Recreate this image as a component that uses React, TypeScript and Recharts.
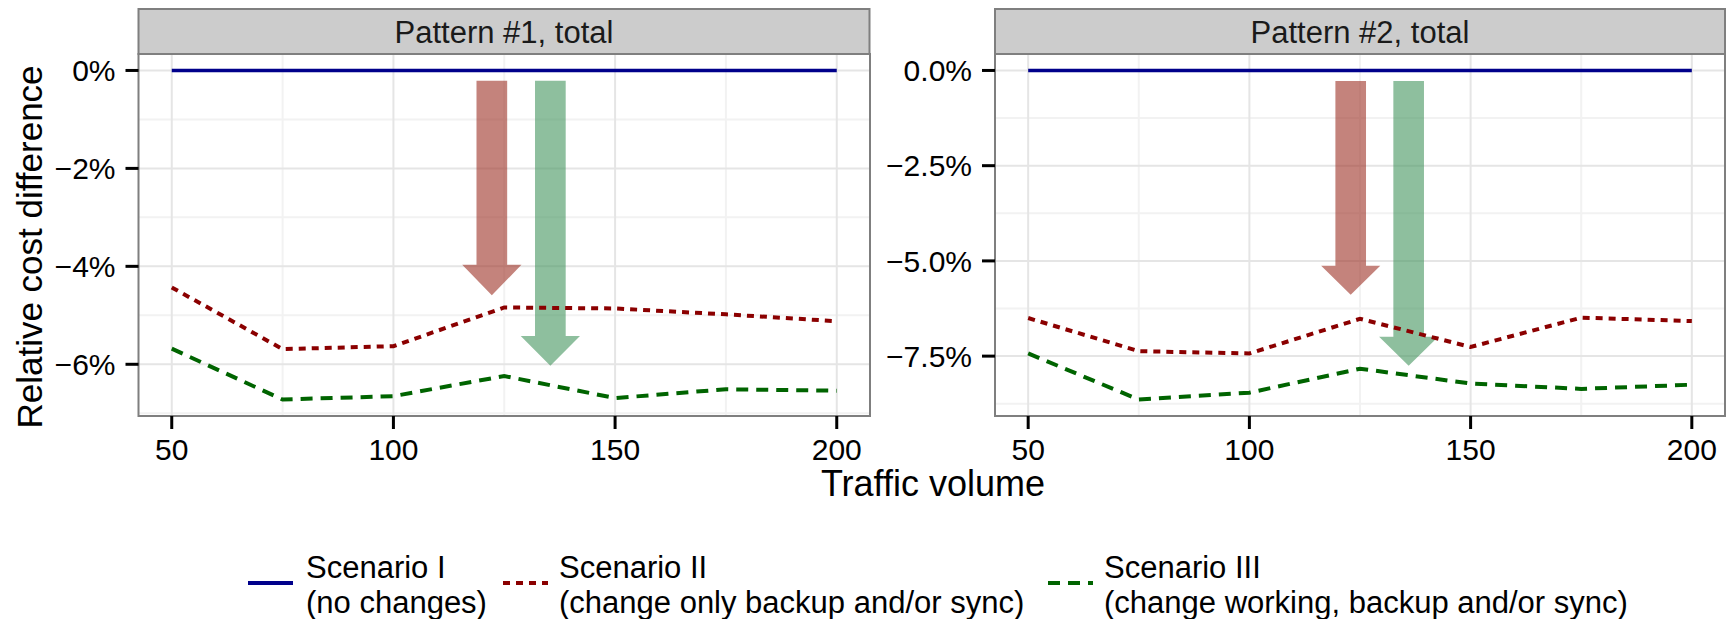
import { LineChart, Line, XAxis, YAxis, CartesianGrid, ReferenceArea } from 'recharts'

// traffic volume on the x axis
const volumes = [50, 75, 100, 125, 150, 175, 200]
const xTicks = [50, 100, 150, 200]
const xMinor = [75, 125, 175]
const xDomain = [42.5, 207.5]

// Pattern #1, relative cost difference in %
const p1NoChange = [0, 0, 0, 0, 0, 0, 0]
const p1Backup = [-4.43, -5.69, -5.63, -4.84, -4.86, -4.98, -5.12]
const p1Working = [-5.68, -6.72, -6.65, -6.24, -6.69, -6.51, -6.54]
const p1Ticks = [0, -2, -4, -6]
const p1Minor = [-1, -3, -5, -7]

// Pattern #2
const p2NoChange = [0, 0, 0, 0, 0, 0, 0]
const p2Backup = [-6.5, -7.37, -7.43, -6.52, -7.26, -6.49, -6.58]
const p2Working = [-7.43, -8.64, -8.46, -7.83, -8.22, -8.36, -8.25]
const p2Ticks = [0, -2.5, -5, -7.5]
const p2Minor = [-1.25, -3.75, -6.25, -8.75]

// arrow annotations, in data units (x centre, top, neck, tip, half widths)
const p1Arrows = [
  { x: 122.2, top: -0.21, neck: -3.97, tip: -4.59, shaft: 3.46, head: 6.68 },
  { x: 135.4, top: -0.21, neck: -5.42, tip: -6.03, shaft: 3.46, head: 6.68 }
]
const p2Arrows = [
  { x: 122.9, top: -0.28, neck: -5.13, tip: -5.89, shaft: 3.46, head: 6.68 },
  { x: 136.0, top: -0.28, neck: -6.99, tip: -7.75, shaft: 3.46, head: 6.68 }
]

const arrowColors = ['rgb(157,48,37)', 'rgb(67,148,93)']

function expand(values: number[][]) {
  const all = values.flat()
  const lo = Math.min(...all)
  const hi = Math.max(...all)
  const pad = (hi - lo) * 0.05
  return [lo - pad, hi + pad]
}

function arrowShape(a: any, color: string) {
  return (props: any) => {
    const { x, y, width, height } = props
    const cx = x + width / 2
    const neckY = y + (height * (a.top - a.neck)) / (a.top - a.tip)
    const sw = (width / 2) * (a.shaft / a.head)
    const pts = [
      [cx - sw, y],
      [cx + sw, y],
      [cx + sw, neckY],
      [x + width, neckY],
      [cx, y + height],
      [x, neckY],
      [cx - sw, neckY]
    ]
    return <polygon points={pts.map((p) => p.join(',')).join(' ')} fill={color} fillOpacity={0.6} />
  }
}

interface PanelProps {
  noChange: number[]
  backup: number[]
  working: number[]
  yTicks: number[]
  yMinor: number[]
  arrows: any[]
  fmt: (v: number) => string
  left: number
  width: number
  yAxisWidth: number
  marginRight: number
}

function Panel(p: PanelProps) {
  const rows = volumes.map((v, i) => ({
    v,
    s1: p.noChange[i],
    s2: p.backup[i],
    s3: p.working[i]
  }))
  const yDomain = expand([p.noChange, p.backup, p.working])

  return (
    <div style={{ position: 'absolute', left: p.left, top: 0 }}>
      <LineChart
        width={p.width}
        height={470}
        data={rows}
        margin={{ top: 54, right: p.marginRight, bottom: 0, left: 0 }}
      >
        <CartesianGrid
          stroke="#f2f2f2"
          strokeWidth={2}
          verticalValues={xMinor}
          horizontalValues={p.yMinor}
        />
        <CartesianGrid
          stroke="#e5e5e5"
          strokeWidth={2}
          verticalValues={xTicks}
          horizontalValues={p.yTicks}
        />
        <XAxis
          dataKey="v"
          type="number"
          domain={xDomain}
          ticks={xTicks}
          allowDataOverflow
          height={54}
          axisLine={false}
          tickSize={13}
          tickMargin={10}
          tickLine={{ stroke: '#000', strokeWidth: 3 }}
          tick={{ fontSize: 30, fill: '#000' }}
        />
        <YAxis
          type="number"
          domain={yDomain}
          ticks={p.yTicks}
          allowDataOverflow
          width={p.yAxisWidth}
          axisLine={false}
          tickSize={13}
          tickMargin={10}
          tickFormatter={p.fmt}
          tickLine={{ stroke: '#000', strokeWidth: 3 }}
          tick={{ fontSize: 30, fill: '#000' }}
        />
        <Line dataKey="s1" type="linear" stroke="#00008b" strokeWidth={3.5} dot={false} isAnimationActive={false} />
        <Line
          dataKey="s2"
          type="linear"
          stroke="#8b0000"
          strokeWidth={4}
          strokeDasharray="7 6"
          dot={false}
          isAnimationActive={false}
        />
        <Line
          dataKey="s3"
          type="linear"
          stroke="#006400"
          strokeWidth={4}
          strokeDasharray="12 8"
          dot={false}
          isAnimationActive={false}
        />
        {p.arrows.map((a, i) => (
          <ReferenceArea
            key={i}
            x1={a.x - a.head}
            x2={a.x + a.head}
            y1={a.top}
            y2={a.tip}
            ifOverflow="visible"
            shape={arrowShape(a, arrowColors[i])}
          />
        ))}
        <ReferenceArea
          x1={xDomain[0]}
          x2={xDomain[1]}
          y1={yDomain[0]}
          y2={yDomain[1]}
          ifOverflow="visible"
          fill="none"
          fillOpacity={0}
          stroke="#7f7f7f"
          strokeWidth={2}
        />
      </LineChart>
    </div>
  )
}

const minus = (s: string) => s.replace('-', '\u2212')

export default function App() {
  return (
    <div
      style={{
        position: 'absolute',
        left: 0,
        top: 0,
        width: 1735,
        height: 619,
        background: '#fff',
        fontFamily: '"Liberation Sans", Arial, sans-serif',
        overflow: 'hidden'
      }}
    >
      <Panel
        noChange={p1NoChange}
        backup={p1Backup}
        working={p1Working}
        yTicks={p1Ticks}
        yMinor={p1Minor}
        arrows={p1Arrows}
        fmt={(v) => minus(`${v}%`)}
        left={0}
        width={880}
        yAxisWidth={138.5}
        marginRight={10}
      />
      <Panel
        noChange={p2NoChange}
        backup={p2Backup}
        working={p2Working}
        yTicks={p2Ticks}
        yMinor={p2Minor}
        arrows={p2Arrows}
        fmt={(v) => minus(`${v.toFixed(1)}%`)}
        left={880}
        width={855}
        yAxisWidth={115}
        marginRight={10}
      />
      <svg
        width={1735}
        height={619}
        style={{ position: 'absolute', left: 0, top: 0, pointerEvents: 'none' }}
      >
        <rect x={138.5} y={9} width={731} height={45} fill="#cccccc" stroke="#7f7f7f" strokeWidth={2} />
        <text x={504} y={43} textAnchor="middle" fontSize={31} fill="#1a1a1a">
          Pattern #1, total
        </text>
        <rect x={995} y={9} width={730} height={45} fill="#cccccc" stroke="#7f7f7f" strokeWidth={2} />
        <text x={1360} y={43} textAnchor="middle" fontSize={31} fill="#1a1a1a">
          Pattern #2, total
        </text>

        <text transform="translate(42,247) rotate(-90)" textAnchor="middle" fontSize={35} fill="#000">
          Relative cost difference
        </text>
        <text x={933} y={496} textAnchor="middle" fontSize={36} fill="#000">
          Traffic volume
        </text>

        <line x1={248} x2={293} y1={583} y2={583} stroke="#00008b" strokeWidth={4} />
        <text x={306} y={578} fontSize={31} fill="#000">Scenario I</text>
        <text x={306} y={613} fontSize={31} fill="#000">(no changes)</text>

        <line x1={503} x2={548} y1={583} y2={583} stroke="#8b0000" strokeWidth={4} strokeDasharray="7 6" />
        <text x={559} y={578} fontSize={31} fill="#000">Scenario II</text>
        <text x={559} y={613} fontSize={31} fill="#000">(change only backup and/or sync)</text>

        <line x1={1048} x2={1093} y1={583} y2={583} stroke="#006400" strokeWidth={4} strokeDasharray="12 8" />
        <text x={1104} y={578} fontSize={31} fill="#000">Scenario III</text>
        <text x={1104} y={613} fontSize={31} fill="#000">(change working, backup and/or sync)</text>
      </svg>
    </div>
  )
}
